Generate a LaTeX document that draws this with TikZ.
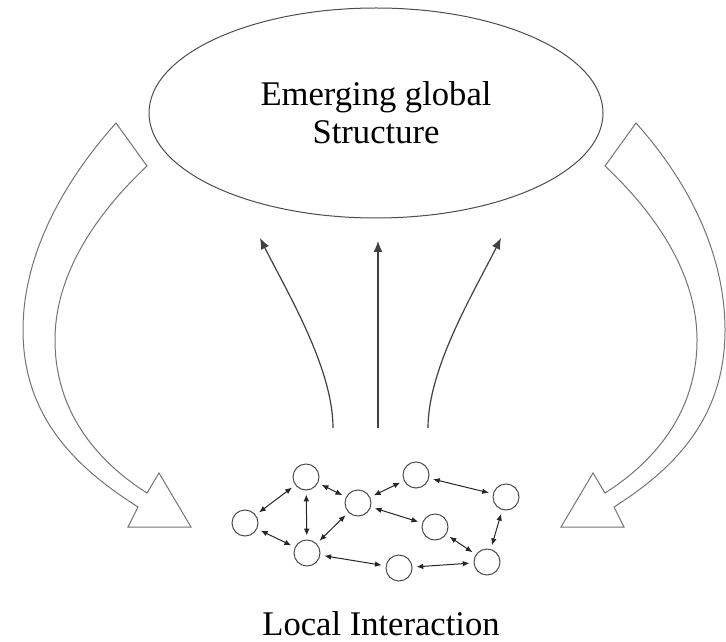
\documentclass[tikz,border=0pt]{standalone}
\usepackage{fontspec}
\setmainfont{Liberation Serif}
\usepackage{tikz}
\usetikzlibrary{shapes.geometric,arrows.meta}

\tikzset{
  agent/.style={circle,draw=black!70,line width=0.5pt,minimum size=13pt,inner sep=0pt},
  link/.style={{Latex[length=3.4pt,width=2.8pt]}-{Latex[length=3.4pt,width=2.8pt]},black!85,line width=0.5pt,shorten >=2pt,shorten <=2pt},
  rise/.style={-{Latex[length=5.5pt,width=4.5pt]},black!75,line width=0.6pt},
  bigarrow/.style={draw=black!55,line width=0.5pt,line join=miter},
  lbltext/.style={font=\fontsize{17.3}{19}\selectfont}
}

\begin{document}
\begin{tikzpicture}[x=0.5pt,y=-0.5pt]
\useasboundingbox (0,0) rectangle (726,641);
% global structure
\node(glob)[ellipse,draw=black!70,line width=0.5pt,minimum width=227pt,minimum height=105pt,align=center,lbltext]at(376,113){Emerging global\\Structure};
% feedback arrows
\draw[bigarrow](116,123) .. controls (58,188) and (23,260) .. (23,330) .. controls (23,420) and (80,470) .. (138,507) -- (128,527) -- (191,527) -- (159,473) -- (147,493) .. controls (95,460) and (55,410) .. (55,340) .. controls (55,275) and (95,215) .. (147,166) -- cycle;
\draw[bigarrow](636,123) .. controls (694,188) and (725,260) .. (725,330) .. controls (725,420) and (672,470) .. (614,507) -- (624,527) -- (561,527) -- (593,473) -- (605,493) .. controls (657,460) and (697,410) .. (697,340) .. controls (697,275) and (657,215) .. (605,166) -- cycle;
% emergence
\coordinate(l0)at(333,428);
\coordinate(l1)at(260,238);
\coordinate(m0)at(378,428);
\coordinate(m1)at(378,241);
\coordinate(r0)at(428,428);
\coordinate(r1)at(501,238);
\draw[rise](l0) .. controls (333,368) and (287,292) .. (l1);
\draw[rise](m0)--(m1);
\draw[rise](r0) .. controls (428,368) and (474,292) .. (r1);
% local agents
\node(a1)[agent]at(306,477){};
\node(a2)[agent]at(245,523){};
\node(a3)[agent]at(307,553){};
\node(a4)[agent]at(358,503){};
\node(a5)[agent]at(416,475){};
\node(a6)[agent]at(506,497){};
\node(a7)[agent]at(435,527){};
\node(a8)[agent]at(487,562){};
\node(a9)[agent]at(399,568){};
\draw[link](a1)--(a2);
\draw[link](a1)--(a3);
\draw[link](a1)--(a4);
\draw[link](a2)--(a3);
\draw[link](a3)--(a4);
\draw[link](a3)--(a9);
\draw[link](a4)--(a5);
\draw[link](a4)--(a7);
\draw[link](a5)--(a6);
\draw[link](a6)--(a8);
\draw[link](a7)--(a8);
\draw[link](a9)--(a8);
\node(local)[lbltext,anchor=base,inner sep=0pt]at(381,635){Local Interaction};
\end{tikzpicture}
\end{document}
